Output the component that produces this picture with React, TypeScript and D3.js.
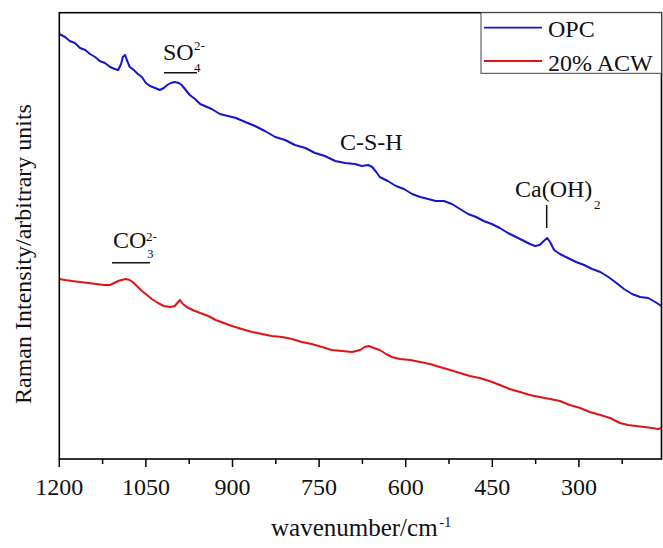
import React from "react";
import * as d3 from "d3";

// OPC spectrum (wavenumber cm^-1, intensity arbitrary units)
const opcWavenumber = [1200, 1190, 1182, 1173, 1164, 1155, 1147, 1138, 1130, 1121, 1112, 1104, 1098, 1093, 1090, 1086, 1083, 1078, 1071, 1064, 1057, 1050, 1043, 1034, 1026, 1019, 1013, 1007, 1000, 993, 988, 981, 974, 965, 956, 948, 936, 922, 908, 894, 878, 861, 844, 826, 809, 792, 774, 757, 740, 722, 705, 688, 676, 665, 658, 651, 645, 631, 617, 603, 589, 575, 561, 548, 534, 520, 506, 492, 478, 465, 451, 437, 423, 409, 395, 385, 376, 368, 361, 355, 350, 343, 333, 319, 305, 291, 277, 263, 249, 235, 222, 208, 194, 180, 168, 157];
const opcIntensity = [425, 422, 418, 416, 411, 409, 405, 402, 398, 396, 392, 390, 389, 395, 402, 404, 399, 392, 389, 385, 382, 376, 373, 371, 369, 371, 374, 376, 377, 376, 374, 369, 364, 360, 355, 353, 350, 345, 343, 341, 337, 333, 328, 322, 319, 314, 311, 306, 303, 298, 296, 295, 293, 294, 292, 287, 282, 278, 273, 270, 265, 262, 260, 258, 258, 255, 250, 245, 242, 238, 235, 231, 226, 222, 218, 215, 213, 214, 218, 221, 217, 209, 205, 201, 197, 194, 190, 187, 182, 176, 170, 165, 162, 161, 157, 153];

// 20% ACW spectrum
const acwWavenumber = [1200, 1190, 1178, 1164, 1150, 1136, 1123, 1112, 1105, 1098, 1092, 1085, 1078, 1071, 1064, 1057, 1048, 1040, 1029, 1019, 1008, 1000, 994, 991, 986, 979, 969, 956, 942, 929, 915, 901, 884, 866, 849, 832, 814, 797, 780, 763, 745, 728, 710, 693, 679, 671, 664, 655, 645, 634, 624, 610, 592, 575, 558, 541, 523, 506, 489, 472, 455, 437, 420, 402, 385, 368, 350, 333, 316, 298, 281, 263, 246, 229, 215, 201, 187, 173, 163, 157];
const acwIntensity = [180, 179, 178, 177, 176, 175, 174, 174, 176, 178, 179, 180, 179, 176, 172, 168, 164, 160, 156, 153, 152, 153, 157, 159, 155, 152, 149, 146, 143, 139, 136, 133, 130, 127, 125, 123, 122, 120, 117, 115, 112, 109, 108, 107, 109, 112, 113, 111, 109, 105, 102, 100, 99, 97, 95, 92, 89, 86, 83, 81, 78, 74, 70, 67, 64, 62, 60, 58, 54, 51, 47, 44, 41, 36, 34, 33, 32, 31, 30, 31];

const seriesNames = ["OPC", "20% ACW"];
const seriesColors = ["#1414d2", "#e01414"];
const majorTicks = [1200, 1050, 900, 750, 600, 450, 300];
const minorTicks = [1125, 975, 825, 675, 525, 375, 225];

const W = 663;
const H = 548;
const L = 59.3;
const R = 661.5;
const T = 12.7;
const B = 459;
const FONT = "'Liberation Serif', 'Times New Roman', serif";

export default function App() {
  const x = d3.scaleLinear().domain([1200, 157]).range([L, R]);
  const y = d3.scaleLinear().domain([0, 446.3]).range([B, T]);
  const line = d3
    .line<[number, number]>()
    .x((d) => x(d[0]))
    .y((d) => y(d[1]));
  const opc = opcWavenumber.map((w, i) => [w, opcIntensity[i]] as [number, number]);
  const acw = acwWavenumber.map((w, i) => [w, acwIntensity[i]] as [number, number]);

  return (
    <svg
      width={W}
      height={H}
      style={{ position: "absolute", left: 0, top: 0, background: "#fff" }}
      fontFamily={FONT}
    >
      <rect x={0} y={0} width={W} height={H} fill="#fff" />
      <defs>
        <clipPath id="plot">
          <rect x={L} y={T} width={R - L} height={B - T} />
        </clipPath>
      </defs>
      <g clipPath="url(#plot)" fill="none" strokeWidth={2} strokeLinejoin="round">
        <path d={line(opc) || ""} stroke={seriesColors[0]} />
        <path d={line(acw) || ""} stroke={seriesColors[1]} />
      </g>
      {/* frame */}
      <rect x={L} y={T} width={R - L} height={B - T} fill="none" stroke="#000" strokeWidth={1.6} />
      {/* ticks */}
      {majorTicks.map((t) => (
        <g key={"M" + t}>
          <line x1={x(t)} x2={x(t)} y1={B} y2={B + 8} stroke="#000" strokeWidth={1.5} />
          <text x={x(t)} y={495} textAnchor="middle" fontSize={24} fill="#111">
            {t}
          </text>
        </g>
      ))}
      {minorTicks.map((t) => (
        <line key={"m" + t} x1={x(t)} x2={x(t)} y1={B} y2={B + 5} stroke="#000" strokeWidth={1.5} />
      ))}
      {/* axis titles */}
      <text x={271} y={536} fontSize={25} fill="#111">
        wavenumber/cm
        <tspan dx={2} dy={-9} fontSize={14}>-1</tspan>
      </text>
      <text transform="translate(31,254) rotate(-90)" textAnchor="middle" fontSize={24} fill="#111">
        Raman Intensity/arbitrary units
      </text>
      {/* legend */}
      <rect x={481} y={T} width={R - 481} height={73.3 - T} fill="#fff" stroke="#444" strokeWidth={1} />
      <line x1={484} x2={542} y1={27.7} y2={27.7} stroke={seriesColors[0]} strokeWidth={1.8} />
      <text x={548} y={36.7} fontSize={24} fill="#111">
        {seriesNames[0]}
      </text>
      <line x1={484} x2={542} y1={61} y2={61} stroke={seriesColors[1]} strokeWidth={1.8} />
      <text x={548} y={70.7} fontSize={24} fill="#111">
        {seriesNames[1]}
      </text>
      {/* annotations */}
      <text x={163} y={60} fontSize={24} fill="#111">SO</text>
      <text x={194} y={50} fontSize={13} fill="#111">2-</text>
      <text x={194} y={72} fontSize={13} fill="#111">4</text>
      <line x1={164} x2={197} y1={72.7} y2={72.7} stroke="#111" strokeWidth={1.5} />

      <text x={113} y={248} fontSize={24} fill="#111">CO</text>
      <text x={146} y={241} fontSize={13} fill="#111">2-</text>
      <text x={147} y={258} fontSize={13} fill="#111">3</text>
      <line x1={112} x2={150} y1={262.7} y2={262.7} stroke="#111" strokeWidth={1.5} />

      <text x={340} y={150} fontSize={24} fill="#111">C-S-H</text>

      <text x={515} y={197} fontSize={24} fill="#111">Ca(OH)</text>
      <text x={594} y={209} fontSize={13} fill="#111">2</text>
      <line x1={546.7} x2={546.7} y1={205} y2={228} stroke="#111" strokeWidth={1.5} />
    </svg>
  );
}
